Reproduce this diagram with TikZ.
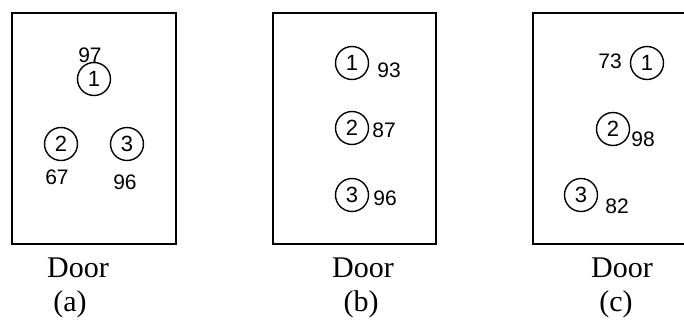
\documentclass[tikz,border=0pt]{standalone}
\usepackage{fontspec}
\setmainfont{Liberation Serif}
\newfontfamily\helv{Liberation Sans}
\tikzset{room/.style={line width=0.8pt,color=black}}
\tikzset{seat/.style={circle,draw,line width=0.7pt,minimum size=16.5pt,inner sep=0pt,font=\helv\fontsize{11}{11}\selectfont}}
\tikzset{score/.style={inner sep=0pt,font=\helv\fontsize{10.5}{10.5}\selectfont}}
\tikzset{caption/.style={inner sep=0pt,font=\fontsize{15}{15}\selectfont}}

\begin{document}
\begin{tikzpicture}[x=0.5pt,y=-0.5pt]
	\useasboundingbox (0,0) rectangle (684,322);
	% rooms
	\draw [room] (12,13) rectangle (176,244);
	\draw [room] (273,13) rectangle (436,244);
	\draw [room] (533,13) rectangle (700,244);

	% (a)
	\node [seat] (a1) at (94,79) {1};
	\node [seat] (a2) at (61,144) {2};
	\node [seat] (a3) at (127,144) {3};
	\node [score] (sa1) at (90,55) {97};
	\node [score] (sa2) at (57,177) {67};
	\node [score] (sa3) at (125,182) {96};
	\node [caption] (doora) at (78,268) {Door};
	\node [caption] (capa) at (70,304) {(a)};

	% (b)
	\node [seat] (b1) at (352,63) {1};
	\node [seat] (b2) at (352,128) {2};
	\node [seat] (b3) at (352,195) {3};
	\node [score] (sb1) at (389,70) {93};
	\node [score] (sb2) at (384,130) {87};
	\node [score] (sb3) at (385,198) {96};
	\node [caption] (doorb) at (363,268) {Door};
	\node [caption] (capb) at (361,304) {(b)};

	% (c)
	\node [seat] (c1) at (647,63) {1};
	\node [seat] (c2) at (613,129) {2};
	\node [seat] (c3) at (581,195) {3};
	\node [score] (sc1) at (610,61) {73};
	\node [score] (sc2) at (643,139) {98};
	\node [score] (sc3) at (617,206) {82};
	\node [caption] (doorc) at (622,268) {Door};
	\node [caption] (capc) at (616,304) {(c)};
\end{tikzpicture}
\end{document}
